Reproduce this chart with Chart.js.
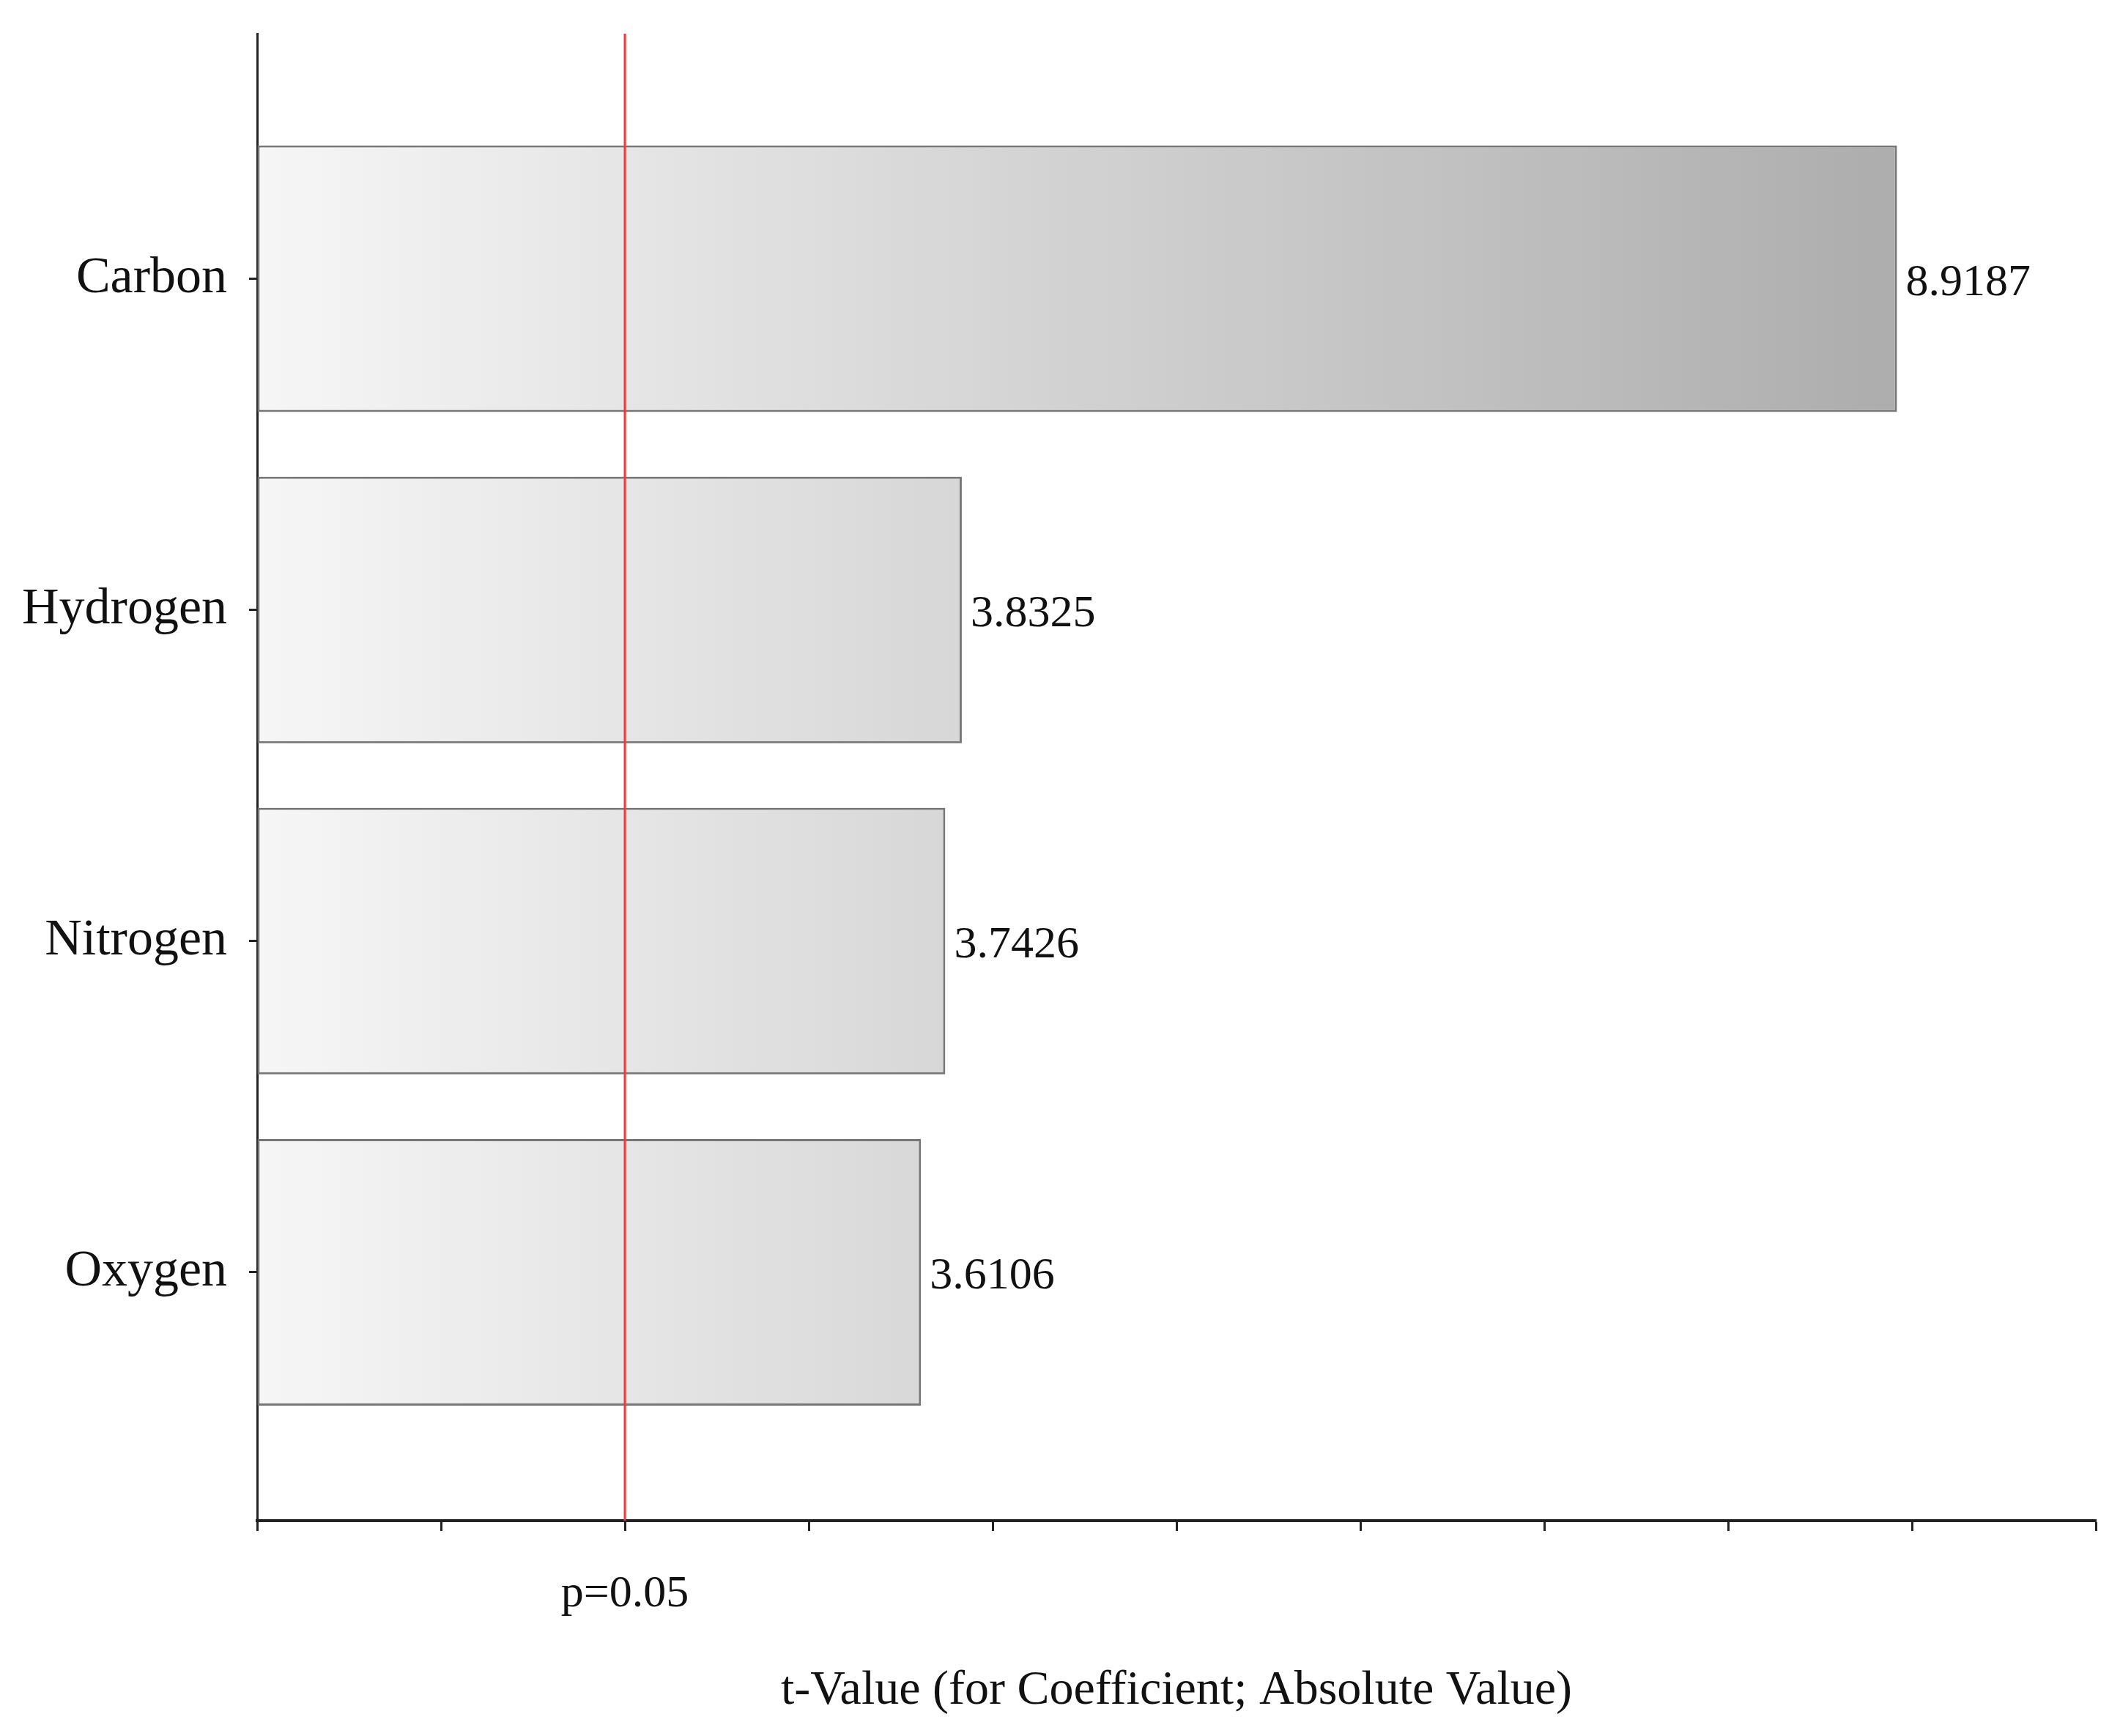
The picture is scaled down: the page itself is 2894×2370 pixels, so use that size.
<!DOCTYPE html>
<html>
<head>
<meta charset="utf-8">
<script src="https://cdn.jsdelivr.net/npm/chart.js@4.4.0/dist/chart.umd.min.js"></script>
<style>
  html, body { margin: 0; padding: 0; background: #fff; }
  canvas { display: block; }
</style>
</head>
<body>
<canvas id="tChart" width="2894" height="2370"></canvas>
<script>
const factors = ['Carbon', 'Hydrogen', 'Nitrogen', 'Oxygen'];
const tValues = [8.9187, 3.8325, 3.7426, 3.6106];
const tCrit = 2.0;
const tCritLabel = 'p=0.05';
const xTitle = 't-Value (for Coefficient; Absolute Value)';

const serif = '"Liberation Serif", "DejaVu Serif", serif';
const maxT = Math.max(...tValues);

// red reference line + value labels next to bars
const extras = {
  id: 'extras',
  afterDatasetsDraw(chart) {
    const { ctx, chartArea, scales } = chart;
    const xc = scales.x.getPixelForValue(tCrit);
    ctx.save();
    ctx.strokeStyle = '#ff3333';
    ctx.lineWidth = 3;
    ctx.beginPath();
    ctx.moveTo(xc, chartArea.top);
    ctx.lineTo(xc, chartArea.bottom);
    ctx.stroke();

    ctx.fillStyle = '#111';
    ctx.font = '62px ' + serif;
    ctx.textAlign = 'left';
    ctx.textBaseline = 'middle';
    chart.getDatasetMeta(0).data.forEach((bar, i) => {
      ctx.fillText(tValues[i].toFixed(4), bar.x + 12, bar.y + 6);
    });
    ctx.restore();
  }
};

new Chart(document.getElementById('tChart'), {
  type: 'bar',
  data: {
    datasets: [{
      data: tValues.map((v, i) => ({ x: v, y: i })),
      backgroundColor(context) {
        const { chart } = context;
        if (!chart.chartArea) return '#dddddd';
        const x0 = chart.scales.x.getPixelForValue(0);
        const x1 = chart.scales.x.getPixelForValue(maxT);
        const g = chart.ctx.createLinearGradient(x0, 0, x1, 0);
        g.addColorStop(0, '#f6f6f6');
        g.addColorStop(1, '#adadad');
        return g;
      },
      borderColor: '#777777',
      borderWidth: 3,
      borderSkipped: false,
      categoryPercentage: 0.805,
      barPercentage: 1.0
    }]
  },
  options: {
    indexAxis: 'y',
    responsive: false,
    animation: false,
    layout: { padding: { left: 0, right: 33, top: 46, bottom: 0 } },
    plugins: {
      legend: { display: false },
      tooltip: { enabled: false }
    },
    scales: {
      x: {
        type: 'linear',
        min: 0,
        max: 10,
        afterFit(scale) {
          scale.height = 294;
          scale.paddingLeft = 0;
          scale.paddingRight = 0;
        },
        border: { display: true, color: '#222', width: 4 },
        grid: {
          drawOnChartArea: false,
          drawTicks: true,
          tickLength: 14,
          tickColor: '#222',
          tickWidth: 3
        },
        ticks: {
          stepSize: 1,
          autoSkip: false,
          maxRotation: 0,
          padding: 50,
          color: '#111',
          font: { family: serif, size: 62 },
          callback: (v) => (v === tCrit ? tCritLabel : '')
        },
        title: {
          display: true,
          text: xTitle,
          color: '#111',
          font: { family: serif, size: 66 },
          padding: { top: 0, bottom: 22 }
        }
      },
      y: {
        type: 'linear',
        reverse: true,
        offset: false,
        min: -0.74,
        max: 3.75,
        afterFit(scale) {
          scale.width = 351;
          scale.paddingTop = 0;
          scale.paddingBottom = 0;
        },
        border: { display: true, color: '#222', width: 3 },
        grid: {
          offset: false,
          drawOnChartArea: false,
          drawTicks: true,
          tickLength: 11,
          tickColor: '#222',
          tickWidth: 3
        },
        ticks: {
          stepSize: 1,
          includeBounds: false,
          autoSkip: false,
          padding: 30,
          color: '#111',
          font: { family: serif, size: 70 },
          callback: (v) => (Number.isInteger(v) && factors[v] !== undefined ? factors[v] : '')
        }
      }
    }
  },
  plugins: [extras]
});
</script>
</body>
</html>
